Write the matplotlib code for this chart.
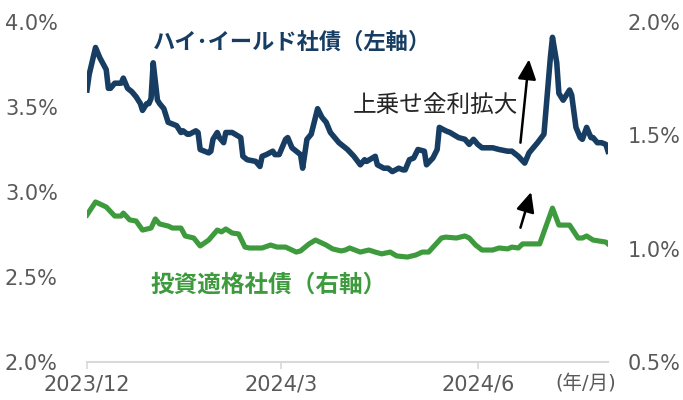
import matplotlib
matplotlib.use("Agg")
import matplotlib.pyplot as plt
import pandas as pd

plt.rcParams["font.family"] = ["DejaVu Sans", "Noto Sans CJK JP"]

# high-yield corporate bonds (left axis, %)
hy_dates = ["2023-12-01", "2023-12-02", "2023-12-05", "2023-12-07", "2023-12-10", "2023-12-11",
            "2023-12-12", "2023-12-14", "2023-12-17", "2023-12-18", "2023-12-20", "2023-12-22",
            "2023-12-24", "2023-12-26", "2023-12-27", "2023-12-29", "2023-12-30", "2023-12-31",
            "2024-01-01", "2024-01-02", "2024-01-03", "2024-01-04", "2024-01-06", "2024-01-08",
            "2024-01-10", "2024-01-12", "2024-01-14", "2024-01-15", "2024-01-17", "2024-01-18",
            "2024-01-21", "2024-01-22", "2024-01-23", "2024-01-27", "2024-01-28", "2024-01-29",
            "2024-01-31", "2024-02-01", "2024-02-03", "2024-02-04", "2024-02-07", "2024-02-11",
            "2024-02-12", "2024-02-14", "2024-02-18", "2024-02-20", "2024-02-21", "2024-02-23",
            "2024-02-26", "2024-02-27", "2024-02-29", "2024-03-03", "2024-03-04", "2024-03-06",
            "2024-03-08", "2024-03-10", "2024-03-11", "2024-03-13", "2024-03-15", "2024-03-18",
            "2024-03-20", "2024-03-22", "2024-03-24", "2024-03-26", "2024-03-28", "2024-03-31",
            "2024-04-01", "2024-04-04", "2024-04-07", "2024-04-09", "2024-04-10", "2024-04-14",
            "2024-04-15", "2024-04-18", "2024-04-20", "2024-04-22", "2024-04-25", "2024-04-27",
            "2024-04-28", "2024-04-30", "2024-05-02", "2024-05-04", "2024-05-07", "2024-05-08",
            "2024-05-11", "2024-05-13", "2024-05-14", "2024-05-17", "2024-05-19", "2024-05-23",
            "2024-05-26", "2024-05-28", "2024-05-30", "2024-06-01", "2024-06-03", "2024-06-06",
            "2024-06-08", "2024-06-11", "2024-06-15", "2024-06-17", "2024-06-20", "2024-06-23",
            "2024-06-25", "2024-06-27", "2024-06-29", "2024-07-02", "2024-07-04", "2024-07-05",
            "2024-07-06", "2024-07-08", "2024-07-09", "2024-07-11", "2024-07-14", "2024-07-15",
            "2024-07-17", "2024-07-19", "2024-07-20", "2024-07-22", "2024-07-24", "2024-07-25",
            "2024-07-27", "2024-07-29", "2024-07-31", "2024-08-01"]
hy_yield = [3.60, 3.69, 3.85, 3.79, 3.72, 3.61,
            3.61, 3.64, 3.64, 3.67, 3.61, 3.59,
            3.56, 3.52, 3.48, 3.52, 3.52, 3.55,
            3.76, 3.65, 3.54, 3.52, 3.49, 3.41,
            3.40, 3.39, 3.35, 3.36, 3.34, 3.34,
            3.36, 3.35, 3.25, 3.23, 3.24, 3.31,
            3.35, 3.32, 3.29, 3.35, 3.35, 3.32,
            3.21, 3.19, 3.18, 3.15, 3.21, 3.22,
            3.24, 3.22, 3.22, 3.31, 3.32, 3.26,
            3.24, 3.22, 3.14, 3.31, 3.34, 3.49,
            3.44, 3.41, 3.35, 3.32, 3.29, 3.26,
            3.25, 3.21, 3.16, 3.19, 3.18, 3.21,
            3.16, 3.14, 3.14, 3.12, 3.14, 3.13,
            3.13, 3.19, 3.20, 3.25, 3.24, 3.16,
            3.20, 3.25, 3.38, 3.36, 3.35, 3.32,
            3.31, 3.28, 3.31, 3.28, 3.26, 3.26,
            3.26, 3.25, 3.24, 3.24, 3.21, 3.17,
            3.23, 3.26, 3.29, 3.34, 3.64, 3.79,
            3.91, 3.76, 3.58, 3.54, 3.60, 3.57,
            3.38, 3.32, 3.31, 3.38, 3.32, 3.32,
            3.29, 3.29, 3.28, 3.24]

# investment-grade corporate bonds (right axis, %)
ig_dates = ["2023-12-01", "2023-12-05", "2023-12-10", "2023-12-14", "2023-12-17", "2023-12-18",
            "2023-12-21", "2023-12-24", "2023-12-27", "2023-12-31", "2024-01-02", "2024-01-04",
            "2024-01-08", "2024-01-10", "2024-01-14", "2024-01-16", "2024-01-20", "2024-01-23",
            "2024-01-27", "2024-01-31", "2024-02-02", "2024-02-04", "2024-02-07", "2024-02-10",
            "2024-02-13", "2024-02-15", "2024-02-18", "2024-02-21", "2024-02-25", "2024-02-28",
            "2024-03-03", "2024-03-06", "2024-03-08", "2024-03-10", "2024-03-14", "2024-03-17",
            "2024-03-20", "2024-03-22", "2024-03-25", "2024-03-29", "2024-03-31", "2024-04-02",
            "2024-04-07", "2024-04-11", "2024-04-14", "2024-04-17", "2024-04-21", "2024-04-24",
            "2024-04-29", "2024-05-03", "2024-05-06", "2024-05-09", "2024-05-12", "2024-05-15",
            "2024-05-17", "2024-05-22", "2024-05-26", "2024-05-28", "2024-05-31", "2024-06-03",
            "2024-06-08", "2024-06-11", "2024-06-15", "2024-06-17", "2024-06-20", "2024-06-22",
            "2024-06-30", "2024-07-02", "2024-07-06", "2024-07-09", "2024-07-14", "2024-07-18",
            "2024-07-20", "2024-07-22", "2024-07-25", "2024-07-31", "2024-08-01"]
ig_yield = [1.149, 1.206, 1.184, 1.144, 1.144, 1.157,
            1.127, 1.122, 1.082, 1.091, 1.131, 1.109,
            1.100, 1.091, 1.091, 1.056, 1.047, 1.012,
            1.038, 1.082, 1.074, 1.087, 1.069, 1.065,
            1.007, 1.003, 1.003, 1.003, 1.016, 1.007,
            1.007, 0.994, 0.985, 0.990, 1.021, 1.038,
            1.025, 1.016, 0.999, 0.990, 0.994, 1.003,
            0.985, 0.994, 0.985, 0.977, 0.985, 0.968,
            0.963, 0.972, 0.985, 0.985, 1.016, 1.047,
            1.051, 1.047, 1.056, 1.047, 1.016, 0.994,
            0.994, 1.003, 0.999, 1.007, 1.003, 1.021,
            1.021, 1.074, 1.179, 1.104, 1.104, 1.047,
            1.047, 1.056, 1.038, 1.029, 1.021]

x_ticks = ["2023-12-01", "2024-03-01", "2024-06-01"]
x_labels = ["2023/12", "2024/3", "2024/6"]
left_ticks = [2.0, 2.5, 3.0, 3.5, 4.0]
right_ticks = [0.5, 1.0, 1.5, 2.0]

NAVY = "#173d63"
GREEN = "#3d9a3d"
GREY = "#595959"

fig = plt.figure(figsize=(6.83, 4.0), dpi=100)
ax = fig.add_axes([87 / 683, 38 / 400, 521 / 683, 340 / 400])
ax2 = ax.twinx()

ax.plot(pd.to_datetime(hy_dates), hy_yield, color=NAVY, lw=4.0, solid_joinstyle="round", zorder=3)
ax2.plot(pd.to_datetime(ig_dates), ig_yield, color=GREEN, lw=3.7, solid_joinstyle="round", zorder=3)

ax.set_xlim(pd.Timestamp("2023-12-01"), pd.Timestamp("2024-08-01"))
ax.set_ylim(2.0, 4.0)
ax2.set_ylim(0.5, 2.0)
ax.set_yticks(left_ticks, [f"{v:.1f}%" for v in left_ticks])
ax2.set_yticks(right_ticks, [f"{v:.1f}%" for v in right_ticks])
ax.set_xticks(pd.to_datetime(x_ticks), x_labels)

for a in (ax, ax2):
    for s in a.spines.values():
        s.set_visible(False)
ax.spines["bottom"].set_visible(True)
ax.spines["bottom"].set_color("#d9d9d9")
ax.spines["bottom"].set_linewidth(1.5)
ax.tick_params(axis="x", length=5, width=1.2, color="#d9d9d9", pad=4, labelsize=15, labelcolor=GREY)
ax.tick_params(axis="y", length=0, pad=21, labelsize=15, labelcolor=GREY)
ax2.tick_params(axis="y", length=0, pad=14, labelsize=15, labelcolor=GREY)

# annotations
arrow = dict(arrowstyle="-|>,head_length=0.8,head_width=0.37", lw=1.8, color="black",
             mutation_scale=15, shrinkA=0, shrinkB=0)
ax.annotate("", xy=(pd.Timestamp("2024-06-25"), 3.78), xytext=(pd.Timestamp("2024-06-21"), 3.29),
            arrowprops=arrow)
ax.annotate("", xy=(pd.Timestamp("2024-06-26"), 3.00), xytext=(pd.Timestamp("2024-06-21"), 2.79),
            arrowprops=arrow)

fig.text(353 / 683, 1 - 105 / 400, "上乗せ金利拡大", fontsize=17, color="#262626",
         va="center", ha="left", family=["Noto Sans CJK JP"])
fig.text(153 / 683, 1 - 42 / 400, "ハイ･イールド社債（左軸）", fontsize=16, color=NAVY,
         fontweight="bold", va="center", ha="left", family=["Noto Sans CJK JP"])
fig.text(150 / 683, 1 - 285 / 400, "投資適格社債（右軸）", fontsize=17, color=GREEN,
         fontweight="bold", va="center", ha="left", family=["Noto Sans CJK JP"])
fig.text(586 / 683, 1 - 383 / 400, "(年/月)", fontsize=14, color=GREY, va="center", ha="center")

fig.savefig("out.png", dpi=100)
